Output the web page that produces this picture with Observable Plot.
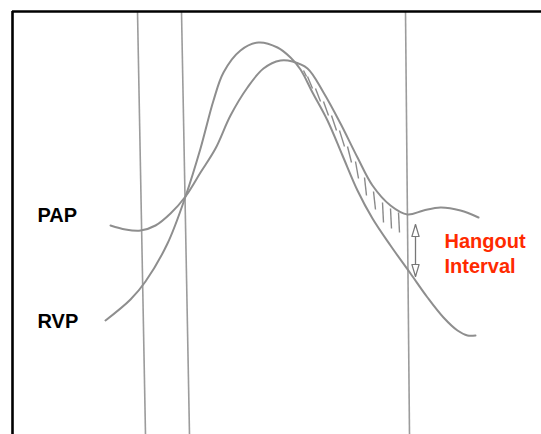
<!DOCTYPE html>
<html>
<head>
<meta charset="utf-8">
<script src="https://cdn.jsdelivr.net/npm/d3@7"></script>
<script src="https://cdn.jsdelivr.net/npm/@observablehq/plot@0.6"></script>
<style>
  html, body { margin: 0; padding: 0; background: #fff; }
  #chart svg { display: block; }
</style>
</head>
<body>
<div id="chart"></div>
<script>
// Time (ms, arbitrary sketch units) and pressure (mmHg, arbitrary sketch units)
const papTime = [98, 113, 128, 143, 158, 173, 188, 203, 218, 235, 251, 268, 280, 295, 311, 328, 345, 360, 378, 395, 411, 428, 448, 466];
const papPressure = [20.9, 20.5, 20.4, 20.9, 22.1, 23.8, 26.2, 28.6, 31.9, 34.7, 36.6, 37.4, 37.3, 36.6, 34.2, 31.1, 27.7, 24.9, 22.9, 22.0, 22.4, 22.7, 22.4, 21.7];

const rvpTime = [93, 118, 133, 155, 173, 188, 201, 211, 228, 246, 265, 278, 288, 300, 315, 330, 345, 360, 378, 398, 415, 431, 445, 455, 463];
const rvpPressure = [11.4, 13.5, 15.3, 19.1, 23.8, 28.6, 33.4, 36.2, 38.4, 39.2, 38.7, 37.7, 36.5, 34.2, 31.4, 27.9, 24.4, 21.6, 18.9, 16.1, 13.7, 11.7, 10.4, 9.9, 9.9];

// Event markers (hand-drawn vertical lines, slightly slanted)
const markerTimeTop = [125, 169, 393];
const markerTimeBottom = [133, 177, 397];
const pressureTop = 42.3;
const pressureBottom = 0;

// Hatching strokes between the curves (the "hangout" area)
const hatchT1 = [291, 295, 303, 311, 319, 327, 335, 343, 352, 361, 370, 378, 386];
const hatchP1 = [36.4, 35.8, 34.6, 33.3, 31.9, 30.4, 28.8, 27.3, 25.7, 24.3, 23.2, 22.6, 22.2];
const hatchT2 = [294, 300, 308, 316, 324, 332, 339, 346, 354, 363, 371, 379, 387];
const hatchP2 = [35.8, 34.6, 33.3, 31.9, 30.4, 28.8, 27.2, 25.6, 23.9, 22.5, 21.2, 20.6, 20.2];

// Hangout interval double arrow
const arrowTime = [403];
const arrowTop = [21.0];
const arrowBottom = [15.8];

// Labels
const seriesLabels = ["PAP", "RVP"];
const seriesLabelTime = [25, 25];
const seriesLabelPressure = [21.3, 10.7];
const noteText = ["Hangout\nInterval"];
const noteTime = [432];
const notePressure = [16.2];

const pap = papTime.map((t, i) => ({t, p: papPressure[i]}));
const rvp = rvpTime.map((t, i) => ({t, p: rvpPressure[i]}));
const markers = markerTimeTop.map((t, i) => ({t1: t, t2: markerTimeBottom[i]}));
const hatch = hatchT1.map((t, i) => ({t1: t, p1: hatchP1[i], t2: hatchT2[i], p2: hatchP2[i]}));
const arrow = arrowTime.map((t, i) => ({t, top: arrowTop[i], bottom: arrowBottom[i]}));
const labels = seriesLabels.map((s, i) => ({s, t: seriesLabelTime[i], p: seriesLabelPressure[i]}));
const notes = noteText.map((s, i) => ({s, t: noteTime[i], p: notePressure[i]}));

const headShape = {
  draw(context, l, r) {
    context.moveTo(-r, 0);
    context.lineTo(0, -l);
    context.lineTo(r, 0);
    context.closePath();
  }
};

const curveColor = "#8e8e8e";
const lineColor = "#9c9c9c";

const chart = Plot.plot({
  width: 541,
  height: 434,
  marginTop: 11,
  marginLeft: 12,
  marginRight: 0,
  marginBottom: 0,
  x: {domain: [0, 529], axis: null},
  y: {domain: [0, 42.3], axis: null},
  marks: [
    // event markers
    Plot.link(markers, {x1: "t1", y1: () => pressureTop, x2: "t2", y2: () => pressureBottom, stroke: lineColor, strokeWidth: 1.6}),
    // hatching
    Plot.link(hatch, {x1: "t1", y1: "p1", x2: "t2", y2: "p2", stroke: "#8a8a8a", strokeWidth: 1.4}),
    // curves
    Plot.line(pap, {x: "t", y: "p", curve: "catmull-rom", stroke: curveColor, strokeWidth: 2}),
    Plot.line(rvp, {x: "t", y: "p", curve: "catmull-rom", stroke: curveColor, strokeWidth: 2}),
    // double arrow
    Plot.link(arrow, {x1: "t", y1: "top", x2: "t", y2: "bottom", stroke: "#777", strokeWidth: 1.3}),
    Plot.vector(arrow, {x: "t", y: "top", length: 12, r: 3.6, rotate: 0, anchor: "end", shape: headShape, stroke: "#777", fill: "white", strokeWidth: 1.2}),
    Plot.vector(arrow, {x: "t", y: "bottom", length: 12, r: 3.6, rotate: 180, anchor: "end", shape: headShape, stroke: "#777", fill: "white", strokeWidth: 1.2}),
    // labels
    Plot.text(labels, {x: "t", y: "p", text: "s", textAnchor: "start", lineAnchor: "bottom", fontSize: 20, fontWeight: "bold", fontFamily: "Liberation Sans, Arial, sans-serif", fill: "#000"}),
    Plot.text(notes, {x: "t", y: "p", text: "s", textAnchor: "start", lineAnchor: "bottom", lineHeight: 1.25, fontSize: 20, fontWeight: "bold", fontFamily: "Liberation Sans, Arial, sans-serif", fill: "#ff2a00"}),
    // frame: top and left borders
    Plot.ruleY([pressureTop], {stroke: "#000", strokeWidth: 2.6}),
    Plot.ruleX([0], {stroke: "#000", strokeWidth: 2.6})
  ]
});

document.getElementById("chart").appendChild(chart);
</script>
</body>
</html>
